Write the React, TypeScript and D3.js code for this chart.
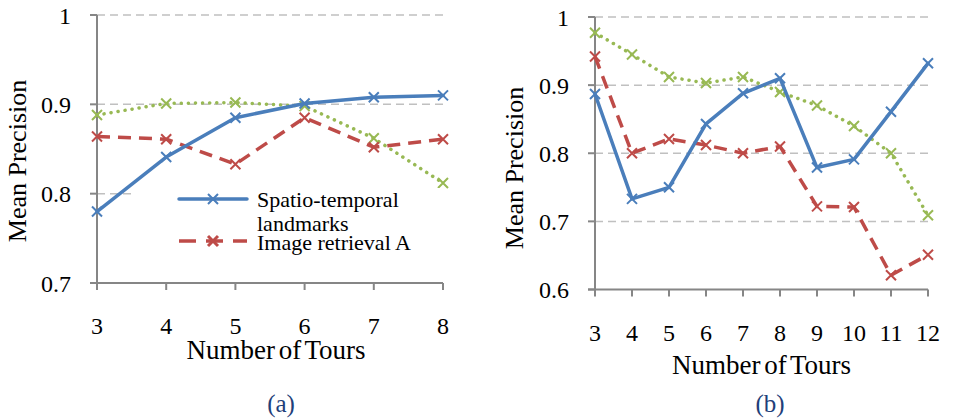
import { useEffect, useRef } from "react";
import * as d3 from "d3";

// chart (a)
const toursA = [3, 4, 5, 6, 7, 8];
const spatioA = [0.780, 0.841, 0.885, 0.901, 0.908, 0.910];
const imageA = [0.864, 0.861, 0.833, 0.885, 0.852, 0.861];
const thirdA = [0.888, 0.901, 0.902, 0.898, 0.862, 0.812];
const yTicksA = [0.7, 0.8, 0.9, 1];

// chart (b)
const toursB = [3, 4, 5, 6, 7, 8, 9, 10, 11, 12];
const spatioB = [0.887, 0.733, 0.750, 0.843, 0.888, 0.910, 0.779, 0.791, 0.861, 0.932];
const imageB = [0.942, 0.800, 0.821, 0.812, 0.800, 0.810, 0.722, 0.721, 0.621, 0.651];
const thirdB = [0.977, 0.945, 0.912, 0.903, 0.912, 0.890, 0.870, 0.840, 0.800, 0.709];
const yTicksB = [0.6, 0.7, 0.8, 0.9, 1];

const legendLabels = ["Spatio-temporal", "landmarks", "Image retrieval A"];

const BLUE = "#4A7EBB";
const RED = "#BE4B48";
const GREEN = "#98B954";
const AXIS = "#868686";
const GRID = "#C0C0C0";
const FONT = "'Liberation Serif', 'Times New Roman', serif";

const seriesStyle = [
  { color: BLUE, dash: null, cap: "round" },
  { color: RED, dash: "13 8", cap: "butt" },
  { color: GREEN, dash: "0.1 7", cap: "round" },
];

function drawPanel(svg, p) {
  const g = svg.append("g");
  const x = d3.scalePoint().domain(p.tours).range(p.xRange);
  const y = d3.scaleLinear().domain(p.yDomain).range(p.yRange);
  const [x0, x1] = p.xRange;
  const yb = y(p.yDomain[0]);

  // gridlines
  g.selectAll("line.grid")
    .data(p.yTicks.slice(1))
    .join("line")
    .attr("x1", x0).attr("x2", x1)
    .attr("y1", d => y(d)).attr("y2", d => y(d))
    .attr("stroke", GRID).attr("stroke-width", 1.5)
    .attr("stroke-dasharray", "8 5");

  // y axis
  g.append("line")
    .attr("x1", x0).attr("x2", x0)
    .attr("y1", y(p.yDomain[1])).attr("y2", yb)
    .attr("stroke", AXIS).attr("stroke-width", 2);
  g.selectAll("line.ytick")
    .data(p.yTicks)
    .join("line")
    .attr("x1", x0 - 7).attr("x2", x0)
    .attr("y1", d => y(d)).attr("y2", d => y(d))
    .attr("stroke", AXIS).attr("stroke-width", 2);
  g.selectAll("text.ylab")
    .data(p.yTicks)
    .join("text")
    .attr("x", x0 - 26)
    .attr("y", d => y(d) + 8.5)
    .attr("text-anchor", "end")
    .attr("font-family", FONT).attr("font-size", 24)
    .text(d => (d === 1 ? "1" : d.toFixed(1)));

  // x axis
  g.append("line")
    .attr("x1", x0 - 7).attr("x2", x1)
    .attr("y1", yb).attr("y2", yb)
    .attr("stroke", AXIS).attr("stroke-width", 2);
  g.selectAll("line.xtick")
    .data(p.tours)
    .join("line")
    .attr("x1", d => x(d)).attr("x2", d => x(d))
    .attr("y1", yb).attr("y2", yb + 7)
    .attr("stroke", AXIS).attr("stroke-width", 2);
  g.selectAll("text.xlab")
    .data(p.tours)
    .join("text")
    .attr("x", d => x(d))
    .attr("y", yb + 51)
    .attr("text-anchor", "middle")
    .attr("font-family", FONT).attr("font-size", 24)
    .text(d => d);

  // titles
  g.append("text")
    .attr("x", (x0 + x1) / 2 + p.titleDx)
    .attr("y", p.titleY)
    .attr("text-anchor", "middle")
    .attr("font-family", FONT).attr("font-size", 27)
    .attr("word-spacing", -3)
    .text("Number of Tours");
  g.append("text")
    .attr("transform", `translate(${p.yTitleX},${p.yTitleY}) rotate(-90)`)
    .attr("text-anchor", "middle")
    .attr("font-family", FONT).attr("font-size", 26)
    .text("Mean Precision");
  g.append("text")
    .attr("x", p.capX).attr("y", 412)
    .attr("text-anchor", "middle")
    .attr("font-family", FONT).attr("font-size", 25)
    .attr("fill", "#1F3F7A")
    .text(p.caption);

  // series, drawn back to front
  const line = d3.line().x((d, i) => x(p.tours[i])).y(d => y(d));
  [2, 1, 0].forEach(k => {
    const s = seriesStyle[k];
    const vals = p.series[k];
    g.append("path")
      .datum(vals)
      .attr("d", line)
      .attr("fill", "none")
      .attr("stroke", s.color)
      .attr("stroke-width", 3.5)
      .attr("stroke-linecap", s.cap)
      .attr("stroke-linejoin", "round")
      .attr("stroke-dasharray", s.dash);
    g.selectAll(null)
      .data(vals)
      .join("path")
      .attr("transform", (d, i) => `translate(${x(p.tours[i])},${y(d)})`)
      .attr("d", "M-5,-5L5,5M-5,5L5,-5")
      .attr("stroke", s.color)
      .attr("stroke-width", 2)
      .attr("fill", "none");
  });

  return { x, y };
}

function drawLegend(svg) {
  const g = svg.append("g");
  g.append("rect")
    .attr("x", 133).attr("y", 188)
    .attr("width", 312).attr("height", 70)
    .attr("fill", "white");
  const entries = [
    { style: seriesStyle[0], ly: 199 },
    { style: seriesStyle[1], ly: 241 },
  ];
  entries.forEach(e => {
    g.append("line")
      .attr("x1", 179).attr("x2", 247)
      .attr("y1", e.ly).attr("y2", e.ly)
      .attr("stroke", e.style.color)
      .attr("stroke-width", 3.5)
      .attr("stroke-linecap", e.style.cap)
      .attr("stroke-dasharray", e.style.dash ? "17 10" : null);
    g.append("path")
      .attr("transform", `translate(213,${e.ly})`)
      .attr("d", "M-5,-5L5,5M-5,5L5,-5")
      .attr("stroke", e.style.color)
      .attr("stroke-width", e.style.dash ? 3 : 2)
      .attr("fill", "none");
  });
  const ys = [207, 231, 250];
  g.selectAll("text")
    .data(legendLabels)
    .join("text")
    .attr("x", 257)
    .attr("y", (d, i) => ys[i])
    .attr("font-family", FONT).attr("font-size", 22)
    .text(d => d);
}

export default function App() {
  const svgRef = useRef(null);

  useEffect(() => {
    const svg = d3.select(svgRef.current);
    svg.selectAll("*").remove();

    drawPanel(svg, {
      tours: toursA,
      series: [spatioA, imageA, thirdA],
      yTicks: yTicksA,
      yDomain: [0.7, 1],
      xRange: [97, 443],
      yRange: [283, 15],
      titleDx: 6,
      titleY: 359,
      yTitleX: 26,
      yTitleY: 161,
      capX: 281,
      caption: "(a)",
    });
    drawLegend(svg);

    drawPanel(svg, {
      tours: toursB,
      series: [spatioB, imageB, thirdB],
      yTicks: yTicksB,
      yDomain: [0.6, 1],
      xRange: [595, 928],
      yRange: [289.5, 17],
      titleDx: 0,
      titleY: 374,
      yTitleX: 523,
      yTitleY: 168,
      capX: 770,
      caption: "(b)",
    });
  }, []);

  return (
    <svg
      ref={svgRef}
      width={953}
      height={418}
      style={{ position: "absolute", left: 0, top: 0, background: "white", display: "block" }}
    />
  );
}
